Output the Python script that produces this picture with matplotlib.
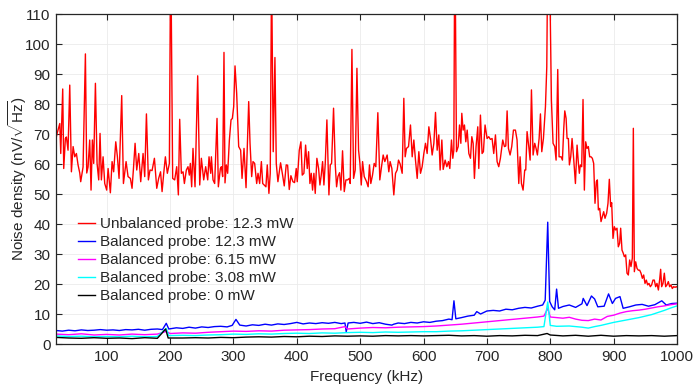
import matplotlib
matplotlib.use("Agg")
import matplotlib.pyplot as plt

# ---- data -------------------------------------------------------------
red_f = [20, 21.5, 26, 27.5, 30.6, 32.2, 34.8, 36.4, 39, 41.7, 44.3, 47, 49.6, 52.2, 54.8,
         57.5, 59, 62.7, 66.4, 68.5, 70.6, 73.2, 75.3, 77.4, 79.5, 82.2, 84.8, 87.4, 89.5,
         91.6, 94.3, 96.9, 100, 102.2, 105.8, 108.5, 111, 114.3, 116.9, 119.5, 123.7, 126.4,
         130.6, 133.7, 137.4, 140, 142.1, 144.8, 147.4, 150.6, 153.7, 157.4, 160, 162.7,
         165.8, 168.4, 171.6, 175.3, 179, 182, 185, 187.4, 190, 192.6, 195.7, 198.9, 201,
         204.1, 207.3, 210.5, 213.1, 215.2, 217.8, 220.5, 222.6, 225.7, 228.3, 230.4, 232,
         234.1, 236.2, 239.4, 243.6, 246.8, 249.4, 253.1, 256.2, 259.4, 261.5, 264.1, 265.2,
         267.8, 270.4, 274.1, 276.2, 279.4, 281, 283, 285.1, 286.7, 288.8, 290.9, 293.6,
         296.2, 298.3, 300.4, 302.5, 305.1, 308.3, 311.4, 313.6, 316.7, 319.9, 324.1, 326.2,
         328.8, 330.9, 333.5, 336.7, 338.8, 341.4, 344.1, 346.2, 348.6, 351.3, 353.4, 356,
         358.1, 360.2, 362.8, 365.5, 367.6, 370.2, 374.4, 377.6, 380.2, 383.3, 385.5, 388.1,
         390.7, 393.9, 396.5, 399.1, 400.7, 403.9, 406.5, 408.6, 411.2, 413.9, 416.5, 418.6,
         420.7, 422.8, 424.9, 427, 429.1, 431.7, 434.4, 436.5, 438.6, 440.7, 442.8, 444.9,
         447.5, 450.7, 452.8, 454.9, 458, 460.7, 462.8, 464.9, 467.5, 469.6, 472.2, 474.9,
         477.5, 480.1, 482.8, 484.3, 487, 489.6, 492.2, 494.9, 497.5, 499.6, 501.7, 503.8,
         506.4, 510.1, 512.6, 514.7, 516.8, 519.5, 522.1, 524.7, 527.9, 531, 533.7, 536.3,
         538.9, 542.6, 545.2, 547.3, 550, 553.1, 555.8, 558.4, 560.5, 563.1, 566.3, 568.9,
         571, 573.1, 576.3, 579.4, 582.1, 584.7, 587.3, 590, 592.6, 595.2, 597.8, 600.5,
         603.1, 605.7, 608.4, 611, 613.6, 616.3, 618.9, 621.5, 624.1, 626.2, 628.9, 631,
         634.1, 636.8, 639.4, 641.5, 644.1, 646.2, 647.8, 649.4, 652, 654.7, 656.8, 658.9,
         660.4, 662.5, 664.6, 666.7, 668.9, 671.5, 674.1, 676.2, 678.3, 680.3, 682.9, 685.6,
         687.2, 689.8, 692.4, 694.5, 697.1, 700.3, 702.9, 705.6, 708.2, 710.8, 713.5, 716.1,
         718.7, 721.3, 725, 727.7, 729.8, 731.9, 734, 736.6, 739.2, 741.9, 745, 747.6,
         750.3, 752.4, 754.5, 757.1, 759.7, 761.3, 763.4, 766.1, 768.2, 770.3, 772.9, 775.5,
         777.6, 779.7, 782.4, 784.5, 786.6, 789.2, 792.4, 794.5, 796, 798.7, 801.8, 804.4,
         807.1, 809.2, 811.8, 813.9, 817.1, 819.2, 821.3, 822.9, 825, 826.5, 828.6, 830.2,
         832.3, 834.4, 837.1, 839.7, 842.3, 844.4, 845.9, 847.5, 849.6, 851.7, 853.8, 855.9,
         858, 860.1, 862.2, 864.3, 866.4, 868.5, 870.6, 872.7, 874.3, 875.9, 878, 880.1,
         882.2, 884.3, 886.4, 889, 891.1, 893.2, 895.3, 896.9, 899, 901.1, 903.2, 905.3,
         907.4, 909.5, 911.1, 913.2, 915.3, 916.9, 919, 921.1, 923.2, 925.3, 927.4, 929.5,
         931.1, 932.7, 934.8, 936.9, 939, 941.1, 943.2, 945.3, 947.4, 949.5, 951.6, 953.7,
         955.8, 957.9, 960, 962.1, 964.2, 966.3, 968.4, 970.6, 972.7, 974.2, 975.8, 977.9,
         980, 982.1, 984.2, 986.3, 988.4, 990.5, 992.6, 994.7, 996.9, 999, 1000]
red_v = [68.5, 70, 73.5, 63.5, 85, 58.5, 68.5, 69, 64.6, 86.3, 57.4, 65.8, 62.4, 63.5, 59.7,
         57, 54.1, 59, 96.7, 57, 59, 68, 51.3, 68, 60.2, 86.9, 60.2, 54.7, 70.2,
         54.7, 62.4, 53.5, 51.3, 58.5, 50.4, 60.8, 57.4, 67.4, 62.4, 55.2, 82.8, 53.5,
         60.8, 55.8, 55.2, 51.9, 58, 66.9, 58, 63.5, 54.1, 63.5, 55.8, 76.7,
         54.7, 58, 57.8, 61.9, 51.9, 55.2, 57.4, 50.8, 56.9, 62.4, 56.9, 60.2, 135,
         55.2, 54.7, 59.1, 49.7, 74.9, 56.9, 57.4, 53.5, 58, 59.1, 56.3, 60.2,
         52.4, 65.2, 52.4, 89.4, 53, 61.9, 54.7, 59.1, 54.7, 62.4, 56.9, 62.4,
         54.7, 53.5, 75.2, 52.4, 58.5, 59.1, 55.8, 97.2, 53.7, 59.7, 56.9, 68,
         74.7, 75.2, 79.1, 92.7, 83.6, 65.8, 64.6, 55.2, 65.2, 52.1, 80.8, 66.9,
         55.8, 60.8, 60.2, 53.5, 56.9, 53.5, 60.8, 53.5, 53, 52.4, 59.7, 50.2,
         56.9, 125, 64.1, 95.5, 60.2, 54.1, 60.4, 56.3, 52.7, 59.7, 59.6, 51.5,
         56.1, 54.1, 53.8, 58.5, 54.1, 64.6, 67.4, 56.3, 56.9, 66.3, 58.5, 64.1,
         53.5, 56.9, 51.3, 56.9, 50.2, 61.9, 58.5, 53, 56.3, 60.8, 53, 60.2,
         74.7, 49.7, 59.7, 60.2, 78.6, 59.7, 52.4, 55.8, 57.1, 51.3, 64.4, 50.8,
         54.7, 54.7, 55.2, 53.5, 98.2, 55.2, 58, 91.9, 64.6, 60.2, 53, 60.8,
         55.8, 54.1, 52.4, 59.7, 53.5, 56.3, 60.2, 59.1, 77.1, 54.7, 59.1, 63,
         60.8, 63, 57.4, 60.8, 58.5, 49.7, 56.9, 58, 61.3, 60, 56.9, 81.9,
         62.4, 65.2, 65.8, 73, 62.4, 68, 61.3, 55.2, 64.1, 56.9, 59.1, 63.5,
         66.9, 63.5, 72.4, 68.5, 63, 66.9, 77.2, 64.6, 69.7, 58, 68, 58.2,
         61.3, 59.1, 60.8, 58.5, 68, 61.9, 64.6, 140, 64.1, 65.8, 73, 66.9,
         76.9, 71.3, 73, 67.4, 71.3, 63.5, 61.9, 69.1, 66.9, 55.2, 65.8, 72.4,
         58.5, 76.3, 63.5, 64.1, 73, 68.5, 69.1, 68.2, 68.5, 63.5, 69.7, 60.8,
         59.1, 61.9, 68, 65.8, 66, 77.7, 65.2, 63, 65.8, 71.3, 71.3, 68,
         53.5, 62.4, 53.5, 51.3, 58, 58, 70.8, 65.8, 61.3, 84.7, 63, 66.9,
         65.2, 63, 68.5, 76.7, 64.1, 68.5, 79.1, 92.4, 130, 130, 81.3, 66.9,
         65.8, 61.3, 91.5, 62.4, 62.4, 61.3, 71.9, 77.7, 75.2, 68.5, 68.5, 59.7,
         62.4, 68.5, 61.3, 53.5, 66.3, 60.2, 56.9, 59.7, 59.1, 81.5, 51.3, 67.4,
         65.2, 65.8, 62.4, 62.4, 61.9, 60.2, 46.9, 54.1, 54.7, 44.7, 45.2, 40.8,
         42.4, 44.1, 41.9, 43.6, 46.9, 54.9, 45.8, 47.1, 35.2, 39.1, 38, 38.6,
         32.4, 33.6, 38.6, 31.3, 30.2, 29.1, 29.7, 23.6, 23, 28, 25.8, 28.6,
         71.9, 24.1, 27.4, 25.2, 24.6, 24.6, 23.6, 21.9, 23, 20.2, 21.3, 19.7,
         20.2, 19.1, 19.7, 21.3, 21.3, 19.1, 20.2, 18, 21.6, 24.9, 19.1, 20.2,
         23.6, 19.1, 19.7, 20.8, 19.1, 19.7, 18.5, 19.1, 18.9, 19.1, 19]

blue_f = [20, 30, 40, 50, 60, 70, 80, 90, 100, 110, 120, 130, 140, 150, 160, 170, 180, 188,
          194, 198, 210, 220, 230, 240, 250, 260, 270, 280, 290, 298, 304, 310, 320, 330,
          340, 350, 360, 370, 380, 390, 400, 410, 420, 430, 440, 450, 460, 470, 476, 478,
          481, 490, 500, 510, 520, 530, 540, 550, 553, 560, 570, 580, 590, 600, 610, 620,
          630, 640, 645, 648, 651, 660, 670, 680, 684, 690, 700, 710, 720, 730, 740, 750,
          760, 770, 780, 788, 792, 796, 799, 803, 807, 810, 813, 820, 830, 840, 850, 852,
          858, 865, 870, 875, 885, 892, 898, 903, 910, 915, 925, 935, 945, 955, 965, 976,
          983, 992, 1000]
blue_v = [4.5, 4.3, 4.6, 4.4, 4.7, 4.5, 4.6, 4.8, 4.6, 4.7, 4.5, 4.8, 4.7, 4.9, 4.6, 4.9, 5.0, 4.8,
          6.9, 5.0, 5.4, 5.2, 5.6, 5.3, 5.7, 5.5, 5.8, 5.9, 5.7, 6.2, 8.2, 6.3, 6.0, 6.4,
          6.2, 6.6, 6.3, 6.7, 6.5, 6.8, 7.2, 6.7, 7.0, 6.8, 7.1, 6.9, 7.2, 6.8, 7.0, 4.1,
          7.0, 7.2, 6.9, 7.3, 6.8, 7.1, 6.6, 6.3, 6.6, 7.0, 6.8, 7.2, 7.0, 7.4, 7.2, 7.6,
          7.8, 8.3, 8.1, 14.4, 8.4, 8.8, 9.3, 9.6, 10.8, 10.0, 11.0, 11.2, 11.0, 11.6, 11.4, 11.9,
          12.2, 12.0, 12.6, 13.0, 14.6, 40.6, 14.2, 12.4, 11.4, 18.3, 11.9, 12.5, 13.0, 12.2, 13.4, 15.2,
          12.8, 16.0, 15.0, 12.4, 12.6, 16.7, 13.5, 15.2, 15.8, 11.9, 12.4, 13.0, 13.2, 12.6, 13.1, 14.4,
          13.0, 13.5, 13.6]

magenta_f = [20, 40, 60, 80, 100, 120, 140, 160, 180, 194, 200, 220, 240, 260, 280, 300, 320,
             340, 360, 380, 400, 420, 440, 460, 476, 480, 500, 520, 540, 560, 580, 600, 620,
             640, 660, 680, 700, 720, 740, 760, 780, 790, 796, 800, 810, 820, 830, 840, 850,
             860, 870, 880, 890, 900, 910, 920, 930, 940, 950, 960, 970, 980, 990, 1000]
magenta_v = [3.3, 3.1, 3.4, 3.0, 3.2, 3.0, 3.3, 3.1, 3.3, 4.2, 3.5, 3.7, 3.6, 3.9, 4.1, 4.3, 4.2,
             4.4, 4.3, 4.6, 4.7, 4.8, 5.0, 5.1, 5.8, 5.0, 5.3, 5.5, 5.4, 5.6, 5.7, 5.8, 6.0,
             6.3, 6.6, 7.0, 7.4, 7.8, 8.2, 8.6, 9.0, 9.3, 11.9, 9.0, 8.8, 8.6, 8.9, 8.3, 7.9,
             7.8, 8.3, 8.0, 9.2, 9.6, 10.3, 10.8, 11.1, 11.3, 11.6, 12.0, 12.4, 12.7, 13.1, 13.4]

cyan_f = [20, 40, 60, 80, 100, 120, 140, 160, 180, 194, 198, 220, 240, 260, 280, 300, 320, 340,
          360, 380, 400, 420, 440, 460, 480, 500, 520, 540, 560, 580, 600, 620, 640, 660, 680,
          700, 720, 740, 760, 780, 790, 796, 800, 810, 830, 850, 860, 870, 880, 890, 900, 920,
          940, 960, 980, 990, 1000]
cyan_v = [2.7, 2.5, 2.6, 2.4, 2.5, 2.4, 2.6, 2.4, 2.5, 5.2, 2.8, 2.9, 2.8, 3.0, 3.1, 3.3, 3.2, 3.4,
          3.3, 3.5, 3.6, 3.5, 3.7, 3.6, 3.8, 3.9, 3.8, 4.0, 3.9, 4.0, 4.1, 4.1, 4.3, 4.4, 4.6,
          4.8, 5.0, 5.2, 5.4, 5.6, 5.8, 14.0, 6.2, 5.9, 6.0, 5.6, 5.3, 5.8, 6.2, 6.7, 7.2, 8.0,
          8.8, 9.8, 11.2, 12.0, 12.7]

black_f = [20, 40, 60, 80, 100, 120, 140, 160, 180, 193, 197, 220, 240, 260, 280, 300, 320, 340,
           360, 380, 400, 420, 440, 460, 480, 500, 520, 540, 560, 580, 600, 620, 640, 660, 680,
           700, 720, 740, 760, 780, 795, 800, 820, 840, 860, 880, 900, 920, 940, 960, 980, 1000]
black_v = [2.2, 2.0, 1.9, 2.1, 1.9, 2.0, 1.8, 2.1, 1.9, 5.0, 2.0, 2.0, 2.1, 2.0, 2.2, 2.1, 2.3, 2.4,
           2.3, 2.5, 2.4, 2.6, 2.5, 2.7, 2.6, 2.7, 2.6, 2.8, 2.7, 2.8, 2.7, 2.8, 2.9, 2.7, 2.8,
           2.6, 2.8, 2.7, 2.9, 2.8, 3.5, 3.0, 2.7, 2.9, 2.6, 2.9, 2.6, 2.8, 2.7, 2.8, 2.6, 2.8]

labels = ["Unbalanced probe: 12.3 mW", "Balanced probe: 12.3 mW", "Balanced probe: 6.15 mW",
          "Balanced probe: 3.08 mW", "Balanced probe: 0 mW"]
x_ticks = [100, 200, 300, 400, 500, 600, 700, 800, 900, 1000]
y_ticks = list(range(0, 111, 10))

# ---- style ------------------------------------------------------------
plt.rcParams["font.family"] = ["Liberation Sans", "DejaVu Sans"]
plt.rcParams["mathtext.fontset"] = "custom"
plt.rcParams["mathtext.rm"] = "Liberation Sans"
plt.rcParams["mathtext.it"] = "Liberation Sans:italic"
dark = "#262626"
fs = 11

fig = plt.figure(figsize=(6.94, 3.90), dpi=100)
ax = fig.add_axes([56 / 694, 1 - 344 / 390, 621 / 694, 330 / 390])

series = [(red_f, red_v, "#ff0000"), (blue_f, blue_v, "#0000ff"),
          (magenta_f, magenta_v, "#ff00ff"), (cyan_f, cyan_v, "#00ffff"),
          (black_f, black_v, "#000000")]
for (f, v, c), lab in zip(series, labels):
    ax.plot(f, v, color=c, lw=1.0, label=lab)

ax.set_xlim(20, 1000)
ax.set_ylim(0, 110)
ax.set_xticks(x_ticks)
ax.set_yticks(y_ticks)
ax.grid(True, color="#ebebeb", lw=0.6)
ax.set_axisbelow(True)
ax.tick_params(direction="in", length=4, width=0.8, colors=dark, labelsize=fs,
               top=True, right=True, labelcolor=dark, pad=4)
for s in ax.spines.values():
    s.set_color(dark)
    s.set_linewidth(0.9)

ax.set_xlabel("Frequency (kHz)", fontsize=fs, color=dark, labelpad=5)
ax.set_ylabel(r"Noise density (nV/$\sqrt{\mathrm{Hz}}$)", fontsize=fs, color=dark)
ax.yaxis.set_label_coords(-0.044, 0.5)

leg = ax.legend(loc="upper left", bbox_to_anchor=(0.035, 0.385), frameon=False,
                fontsize=fs, handlelength=1.1, handletextpad=0.35, labelspacing=0.27,
                borderpad=0, borderaxespad=0)
for t in leg.get_texts():
    t.set_color(dark)

fig.savefig("out.png", dpi=100)
